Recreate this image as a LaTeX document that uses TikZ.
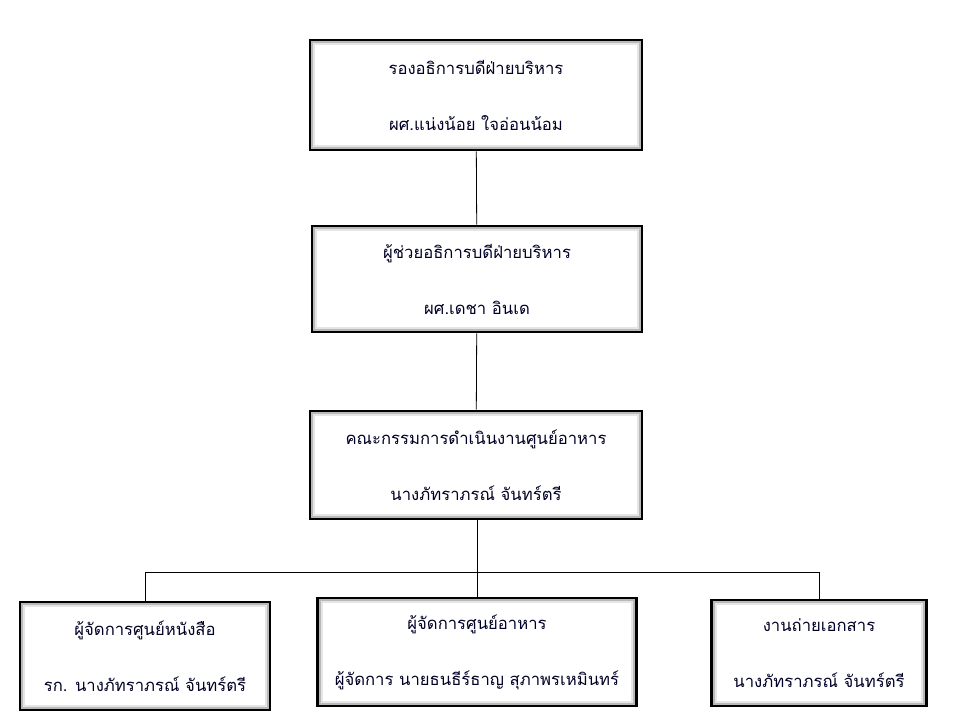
\documentclass[tikz,border=0pt]{standalone}
\usepackage{fontspec}
\newfontfamily\thaifont[Script=Thai]{Loma}
\begin{document}
\begin{tikzpicture}[x=0.75pt,y=0.75pt,yscale=-1,xscale=1,
    orgbox/.style={draw=black, line width=2.2pt, fill=gray!55, inner sep=0pt,
      align=center, font=\thaifont\fontsize{12.5}{15}\selectfont, text=black!85!blue,
      path picture={\fill[gray!20] ([shift={(2.5pt,-2.5pt)}]path picture bounding box.north west)
        rectangle ([shift={(-2.5pt,2.5pt)}]path picture bounding box.south east);
        \fill[white] ([shift={(4pt,-4pt)}]path picture bounding box.north west)
        rectangle ([shift={(-4pt,4pt)}]path picture bounding box.south east);}},
    link/.style={draw=black, line width=0.6pt}]
    \useasboundingbox (0,0) rectangle (977,718);

    % upper chain
    \node [orgbox, minimum width=332*0.75pt, minimum height=110*0.75pt] (vp) at (476,95)
      {รองอธิการบดีฝ่ายบริหาร\\[27pt]ผศ.แน่งน้อย ใจอ่อนน้อม};
    \node [orgbox, minimum width=330*0.75pt, minimum height=106*0.75pt] (avp) at (477,279)
      {ผู้ช่วยอธิการบดีฝ่ายบริหาร\\[27pt]ผศ.เดชา อินเด};
    \node [orgbox, minimum width=332*0.75pt, minimum height=108*0.75pt] (cmt) at (476,465)
      {คณะกรรมการดำเนินงานศูนย์อาหาร\\[27pt]นางภัทราภรณ์ จันทร์ตรี};

    % lower row
    \node [orgbox, minimum width=250*0.75pt, minimum height=108*0.75pt] (book) at (145,656)
      {ผู้จัดการศูนย์หนังสือ\\[27pt]รก. นางภัทราภรณ์ จันทร์ตรี};
    \node [orgbox, minimum width=319*0.75pt, minimum height=108*0.75pt] (food) at (477,652)
      {ผู้จัดการศูนย์อาหาร\\[27pt]ผู้จัดการ นายธนธีร์ธาญ สุภาพรเหมินทร์};
    \node [orgbox, minimum width=215*0.75pt, minimum height=106*0.75pt] (copy) at (819,653)
      {งานถ่ายเอกสาร\\[27pt]นางภัทราภรณ์ จันทร์ตรี};

    % connectors
    \coordinate (fork) at (477,572);
    \draw [link] (vp) -- (avp);
    \draw [link] (avp) -- (cmt);
    \draw [link] (cmt.south -| fork) -- (fork);
    \draw [link] (fork) -- (food);
    \draw [link] (book.north) |- (fork) -| (copy.north);
\end{tikzpicture}
\end{document}
